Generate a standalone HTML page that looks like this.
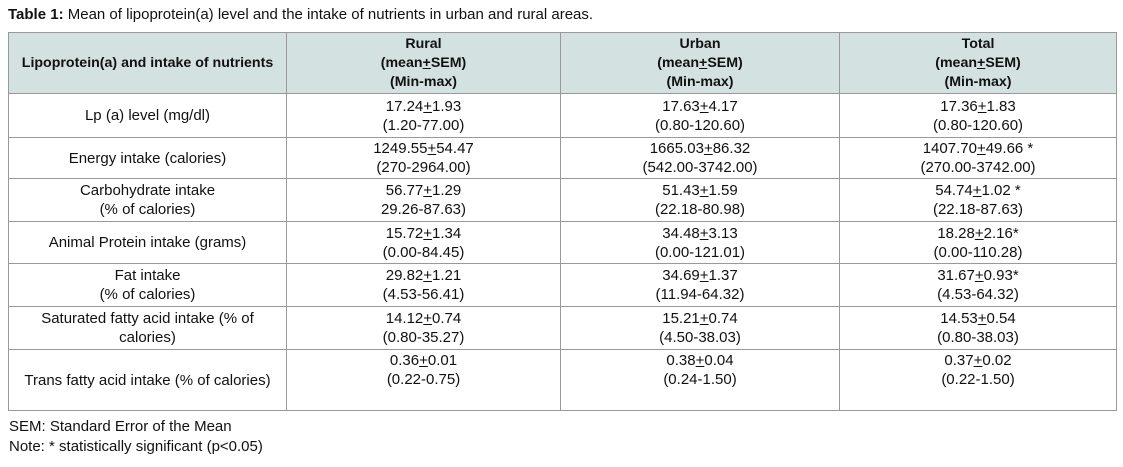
<!DOCTYPE html>
<html><head><meta charset="utf-8"><style>
body{margin:0;width:1123px;height:467px;background:#fff;font-family:"Liberation Sans",Arial,sans-serif;color:#111;position:relative;overflow:hidden}
.title{position:absolute;left:8px;top:6px;font-size:15px}
table{position:absolute;left:8px;top:32px;border-collapse:collapse;font-size:15px;line-height:19px;table-layout:fixed}
td,th{border:1.5px solid #999;text-align:center;vertical-align:middle;padding:0 2px;white-space:nowrap}
th{background:#d3e2e0;font-weight:bold;font-size:14.2px}
u{text-decoration:underline}
.foot{position:absolute;left:9px;font-size:15px}
</style></head><body>
<div class="title"><b>Table 1:</b> Mean of lipoprotein(a) level and the intake of nutrients in urban and rural areas.</div>
<table>
<colgroup><col style="width:278px"><col style="width:274px"><col style="width:279px"><col style="width:277px"></colgroup>
<tr style="height:61px"><th>Lipoprotein(a) and intake of nutrients</th><th>Rural<br>(mean<u>+</u>SEM)<br>(Min-max)</th><th>Urban<br>(mean<u>+</u>SEM)<br>(Min-max)</th><th>Total<br>(mean<u>+</u>SEM)<br>(Min-max)</th></tr>
<tr style="height:44px"><td>Lp (a) level (mg/dl)</td><td>17.24<u>+</u>1.93<br>(1.20-77.00)</td><td>17.63<u>+</u>4.17<br>(0.80-120.60)</td><td>17.36<u>+</u>1.83<br>(0.80-120.60)</td></tr>
<tr style="height:41px"><td>Energy intake (calories)</td><td>1249.55<u>+</u>54.47<br>(270-2964.00)</td><td>1665.03<u>+</u>86.32<br>(542.00-3742.00)</td><td>1407.70<u>+</u>49.66 *<br>(270.00-3742.00)</td></tr>
<tr style="height:43px"><td>Carbohydrate intake<br>(% of calories)</td><td>56.77<u>+</u>1.29<br>29.26-87.63)</td><td>51.43<u>+</u>1.59<br>(22.18-80.98)</td><td>54.74<u>+</u>1.02 *<br>(22.18-87.63)</td></tr>
<tr style="height:42px"><td>Animal Protein intake (grams)</td><td>15.72<u>+</u>1.34<br>(0.00-84.45)</td><td>34.48<u>+</u>3.13<br>(0.00-121.01)</td><td>18.28<u>+</u>2.16*<br>(0.00-110.28)</td></tr>
<tr style="height:43px"><td>Fat intake<br>(% of calories)</td><td>29.82<u>+</u>1.21<br>(4.53-56.41)</td><td>34.69<u>+</u>1.37<br>(11.94-64.32)</td><td>31.67<u>+</u>0.93*<br>(4.53-64.32)</td></tr>
<tr style="height:43px"><td>Saturated fatty acid intake (% of<br>calories)</td><td>14.12<u>+</u>0.74<br>(0.80-35.27)</td><td>15.21<u>+</u>0.74<br>(4.50-38.03)</td><td>14.53<u>+</u>0.54<br>(0.80-38.03)</td></tr>
<tr style="height:61px"><td>Trans fatty acid intake (% of calories)</td><td style="vertical-align:top;padding-top:1px">0.36<u>+</u>0.01<br>(0.22-0.75)</td><td style="vertical-align:top;padding-top:1px">0.38<u>+</u>0.04<br>(0.24-1.50)</td><td style="vertical-align:top;padding-top:1px">0.37<u>+</u>0.02<br>(0.22-1.50)</td></tr>
</table>
<div class="foot" style="top:418px">SEM: Standard Error of the Mean</div>
<div class="foot" style="top:438px">Note: * statistically significant (p&lt;0.05)</div>
</body></html>
